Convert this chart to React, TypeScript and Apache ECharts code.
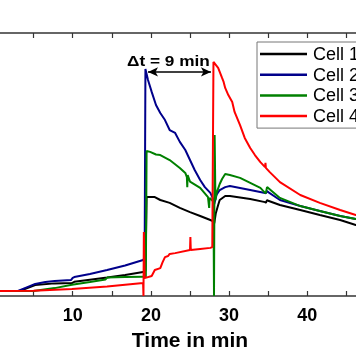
import React, { useEffect, useRef } from "react";
import * as echarts from "echarts";

// Time (min) / signal (arbitrary units, 0-100) pairs
const cell1: number[][] = [
  [0.7, 1.9], [3.2, 1.9], [5.2, 4.2], [7.7, 4.8], [9.9, 4.9], [10.2, 5.4], [12.2, 6.2],
  [14.4, 7.0], [16.7, 8.0], [19.0, 9.1], [19.3, 9.5], [19.45, 37.6], [20.5, 37.6],
  [21.2, 36.5], [22.4, 35.4], [23.7, 33.5], [25.0, 31.9], [26.3, 30.4], [27.6, 28.9],
  [27.9, 28.5], [28.1, 27.6], [28.3, 31.5], [28.6, 34.6], [28.8, 36.5], [29.5, 38.0],
  [30.1, 38.0], [32.7, 36.9], [34.6, 35.7], [34.7, 35.4], [34.85, 36.5], [35.0, 36.2],
  [36.5, 34.6], [39.1, 32.7], [41.6, 30.8], [44.2, 28.9], [46.2, 27.0], [47.5, 26.2],
];
const cell2: number[][] = [
  [0.7, 1.9], [3.0, 1.9], [4.2, 3.4], [5.2, 4.6], [6.5, 5.3], [7.7, 5.7], [9.8, 6.1],
  [10.0, 6.9], [10.2, 7.2], [12.2, 8.4], [14.4, 9.9], [16.7, 11.6], [19.0, 13.7],
  [19.2, 14.4], [19.3, 86.3], [19.63, 82.1], [20.1, 77.6], [20.65, 72.6], [21.2, 69.6],
  [21.8, 66.9], [22.4, 63.1], [23.1, 62.0], [23.7, 58.6], [24.4, 55.5], [25.0, 51.7],
  [25.6, 47.9], [26.3, 44.1], [26.9, 41.4], [27.6, 39.2], [27.9, 37.3], [28.1, 35.0],
  [28.4, 38.5], [28.8, 40.3], [29.5, 41.4], [30.1, 41.8], [32.7, 40.3], [34.6, 39.2],
  [34.7, 39.0], [34.85, 40.0], [35.0, 39.5], [36.5, 36.5], [39.1, 34.2], [41.6, 32.3],
  [44.2, 30.4], [46.2, 29.3], [47.5, 28.7],
];
const cell3: number[][] = [
  [0.7, 1.9], [5.0, 1.9], [7.7, 3.0], [9.9, 4.3], [12.2, 5.3], [14.2, 6.3], [14.4, 7.0],
  [16.7, 7.2], [19.0, 7.3], [19.35, 7.3], [19.45, 55.1], [19.9, 54.8], [20.65, 53.8],
  [21.2, 53.6], [22.4, 51.7], [23.7, 48.7], [24.4, 46.8], [24.6, 45.2], [24.65, 41.4],
  [24.7, 46.0], [25.0, 43.5], [26.3, 41.1], [27.3, 37.6], [27.45, 33.5], [27.5, 37.3],
  [27.8, 36.5], [28.0, 35.8], [28.07, 0], [28.12, 0], [28.15, 61.2], [28.25, 36.5],
  [28.4, 39.2], [28.8, 42.6], [29.1, 44.5], [29.5, 46.4], [30.1, 46.0], [31.4, 44.9],
  [32.7, 43.0], [34.0, 41.1], [34.6, 39.2], [34.7, 39.2], [34.85, 41.4], [35.0, 41.1],
  [36.5, 37.3], [39.1, 34.2], [41.6, 32.3], [44.2, 30.4], [46.2, 29.3], [47.5, 28.7],
];
const cell4: number[][] = [
  [0.7, 1.9], [5.0, 2.0], [9.9, 2.7], [14.4, 3.6], [16.7, 4.3], [19.0, 4.9], [19.05, 0],
  [19.1, 24.3], [19.2, 6.8], [20.1, 7.6], [20.5, 9.9], [21.2, 10.6], [21.5, 12.9],
  [21.8, 14.8], [22.2, 15.2], [22.4, 16.0], [23.1, 16.3], [25.0, 17.5], [25.05, 22.4],
  [25.1, 17.5], [26.3, 17.9], [27.6, 18.3], [27.85, 18.6], [28.0, 89.0], [28.6, 86.7],
  [29.1, 82.9], [29.3, 81.4], [29.5, 79.1], [29.9, 76.4], [30.4, 73.8], [30.7, 70.0],
  [31.4, 65.0], [32.0, 60.1], [32.7, 56.3], [33.3, 53.6], [34.0, 50.9], [34.6, 49.0],
  [34.65, 50.6], [34.7, 48.7], [35.2, 47.1], [36.5, 43.3], [39.1, 38.4], [41.6, 35.4],
  [44.2, 32.7], [46.2, 30.8], [47.5, 30.0],
];
const seriesNames = ["Cell 1", "Cell 2", "Cell 3", "Cell 4"];
const seriesColors = ["#000000", "#00008b", "#008000", "#ff0000"];
const labelledTicks = [10, 20, 30, 40];
const arrowStart = [19.63, 85.2];
const arrowEnd = [27.68, 85.2];
const annotation = "\u0394t = 9 min";

export default function App() {
  const ref = useRef<HTMLDivElement>(null);
  useEffect(() => {
    if (!ref.current) return;
    const chart = echarts.init(ref.current, undefined, { renderer: "svg" });
    const font = "Arial, 'Liberation Sans', sans-serif";
    const axisCommon = {
      type: "value" as const,
      min: 0,
      max: 50,
      interval: 5,
      splitLine: { show: false },
      axisLine: { show: true, lineStyle: { color: "#333", width: 1.5 } },
      axisTick: { show: true, inside: true, length: 5, lineStyle: { color: "#333", width: 1.2 } },
    };
    const datasets = [cell1, cell2, cell3, cell4];

    chart.setOption({
      animation: false,
      grid: {
        left: -5.5,
        right: -29.5,
        top: 33,
        bottom: 68,
        outerBoundsMode: "none",
        containLabel: false,
      },
      xAxis: [
        {
          ...axisCommon,
          position: "bottom",
          name: "Time in min",
          nameLocation: "middle",
          nameGap: 33,
          nameTextStyle: { fontFamily: font, fontWeight: "bold", fontSize: 21, color: "#000" },
          axisLabel: {
            fontFamily: font,
            fontWeight: "bold",
            fontSize: 18,
            color: "#000",
            margin: 10,
            formatter: (v: number) => (labelledTicks.includes(v) ? String(v) : ""),
          },
        },
        { ...axisCommon, position: "top", axisLabel: { show: false } },
      ],
      yAxis: { type: "value", min: 0, max: 100, show: false },
      legend: {
        left: 257,
        top: 42,
        orient: "vertical",
        icon: "rect",
        itemWidth: 47,
        itemHeight: 2.5,
        itemGap: 2.7,
        padding: [3, 30, 3, 3],
        borderColor: "#777",
        borderWidth: 1,
        backgroundColor: "#fff",
        data: seriesNames,
        textStyle: {
          fontFamily: font,
          fontSize: 18,
          color: "#000",
          lineHeight: 16,
          padding: [0, 0, 0, 1],
        },
      },
      series: datasets.map((d, i) => ({
        name: seriesNames[i],
        type: "line",
        data: d,
        symbol: "none",
        color: seriesColors[i],
        lineStyle: { width: 2, color: seriesColors[i] },
        z: i === 3 ? 4 : i === 2 ? 3 : 2 + i * 0.1,
        ...(i === 0
          ? {
              markLine: {
                silent: true,
                symbol: ["arrow", "arrow"],
                symbolSize: [7, 10],
                lineStyle: { color: "#000", width: 1.5, type: "solid" },
                label: { show: false },
                data: [[{ coord: arrowStart }, { coord: arrowEnd }]],
              },
            }
          : {}),
      })),
      graphic: [
        {
          type: "text",
          x: 127,
          y: 60,
          scaleX: 1.15,
          style: {
            text: annotation,
            font: `bold 15px ${font}`,
            fill: "#000",
            textVerticalAlign: "middle",
          },
        },
      ],
    });
    return () => chart.dispose();
  }, []);
  return (
    <div
      ref={ref}
      style={{ position: "fixed", left: 0, top: 0, width: 356, height: 364 }}
    />
  );
}
